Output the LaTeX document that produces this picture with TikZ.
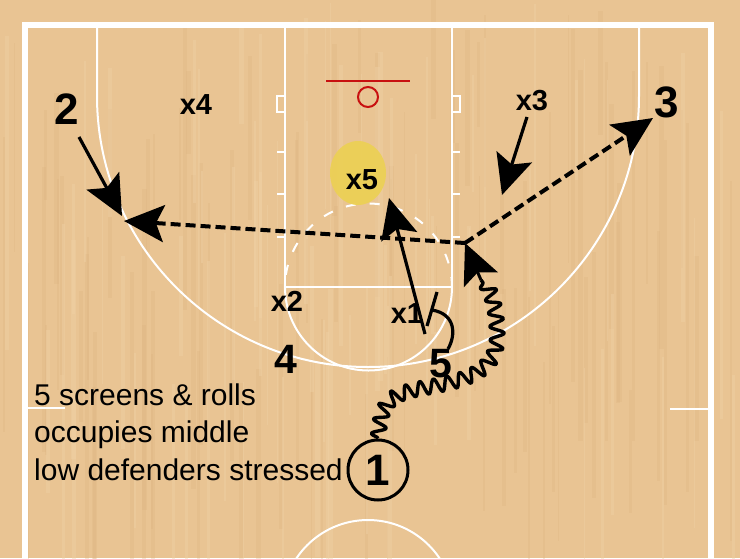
\documentclass[tikz,border=0pt]{standalone}
\usepackage{fontspec}
\setmainfont{Liberation Sans}
\usetikzlibrary{arrows.meta,decorations.pathmorphing}
\definecolor{wood}{RGB}{233,196,147}
\definecolor{wooddark}{RGB}{222,180,128}
\definecolor{woodlight}{RGB}{240,210,166}
\definecolor{rimred}{RGB}{200,16,16}
\definecolor{hilite}{RGB}{236,208,84}
\begin{document}
\begin{tikzpicture}[x=1pt,y=-1pt,
  court/.style={white, line width=2pt},
  bigdigit/.style={font=\fontsize{44}{44}\selectfont\bfseries, inner sep=0pt},
  middigit/.style={font=\fontsize{41}{41}\selectfont\bfseries, inner sep=0pt},
  deflabel/.style={font=\fontsize{29}{29}\selectfont\bfseries, inner sep=0pt},
  note/.style={font=\fontsize{30}{30}\selectfont, inner sep=0pt, anchor=base west},
  head/.style={-{Stealth[length=40pt,width=37pt,inset=8pt]}},
  cut/.style={head, line width=3.2pt},
  pass/.style={head, line width=4pt, dash pattern=on 10pt off 5pt},
  screenline/.style={line width=3.2pt},
  dribble/.style={line width=3.4pt, line join=round, decorate, decoration={snake, segment length=14pt, amplitude=7pt}}
]
\useasboundingbox (0,0) rectangle (740,558);
\clip (0,0) rectangle (740,558);
\fill[wood] (0,0) rectangle (740,558);
% wood grain
\pgfmathsetseed{7}
\foreach \i in {1,...,90}{
  \pgfmathsetmacro{\xx}{rnd*740}
  \pgfmathsetmacro{\ww}{1+rnd*4}
  \pgfmathsetmacro{\yy}{rnd*400}
  \pgfmathsetmacro{\hh}{80+rnd*300}
  \fill[wooddark, opacity=0.3] (\xx,\yy) rectangle ++(\ww,\hh);
}
\foreach \i in {1,...,70}{
  \pgfmathsetmacro{\xx}{rnd*740}
  \pgfmathsetmacro{\ww}{1+rnd*4}
  \pgfmathsetmacro{\yy}{rnd*400}
  \pgfmathsetmacro{\hh}{80+rnd*300}
  \fill[woodlight, opacity=0.4] (\xx,\yy) rectangle ++(\ww,\hh);
}
% court
\draw[white, line width=5.5pt] (25,25) rectangle (711,640);
\draw[court] (28,408) -- (65,408);
\draw[court] (670,409) -- (708,409);
\draw[court] (285,25) -- (285,287) -- (452,287) -- (452,25);
\draw[court] (285,96) -- (277,96) -- (277,112) -- (285,112);
\draw[court] (452,96) -- (460,96) -- (460,112) -- (452,112);
\foreach \yy in {152,194,237}{
  \draw[court] (277,\yy) -- (285,\yy);
  \draw[court] (452,\yy) -- (460,\yy);
}
\draw[court] (285,287) arc[start angle=180,end angle=360,radius=83.5pt];
\draw[court, dash pattern=on 10pt off 14pt] (452,287) arc[start angle=0,end angle=180,radius=83.5pt];
\draw[court] (97,25) -- (97,96) arc[start angle=180,end angle=360,radius=271pt] -- (639,25);
\draw[court] (368,606) circle[radius=86pt];
% basket
\draw[rimred, line width=2.2pt] (326,81) -- (410,81);
\draw[rimred, line width=2pt] (368,97) circle[radius=10pt];
% highlight
\fill[hilite, opacity=0.92] (358,173) ellipse[x radius=28pt, y radius=32pt];
% players
\node[bigdigit] (o2) at (67,109) {2};
\node[deflabel] (d4) at (196,105) {x4};
\node[deflabel] (d3) at (532,101) {x3};
\node[bigdigit] (o3) at (667,102) {3};
\node[deflabel] (d5) at (362,180) {x5};
\node[deflabel] (d2) at (287,301) {x2};
\node[deflabel] (d1) at (407,314) {x1};
\node[middigit] (o4) at (286,359) {4};
\node[middigit] (o5) at (441,364) {5};
\node[draw, circle, line width=3pt, minimum size=60pt, inner sep=0pt,
      font=\fontsize{44}{44}\selectfont\bfseries] (o1) at (378,470) {1};
% notes
\node[note] (n1) at (34,405) {5 screens \& rolls};
\node[note] (n2) at (34,442) {occupies middle};
\node[note] (n3) at (34,480) {low defenders stressed};
% coordinates
\coordinate (a2s) at (79,137);
\coordinate (a2e) at (122,216);
\coordinate (a3s) at (527,117);
\coordinate (a3e) at (502,195);
\coordinate (hand) at (465,243);
\coordinate (rec2) at (124,221);
\coordinate (rec3) at (653,118);
\coordinate (scr) at (425,334);
\coordinate (roll) at (389,198);
\coordinate (drib) at (481,280);
\coordinate (scrs) at (448,349);
\coordinate (scre) at (432,310);
\coordinate (bart) at (437,292);
\coordinate (barb) at (427,326);
% movements
\draw[cut] (a2s) -- (a2e);
\draw[cut] (a3s) -- (a3e);
\draw[pass] (hand) -- (rec2);
\draw[pass] (hand) -- (rec3);
\draw[cut] (scr) -- (roll);
\draw[screenline] (scrs) .. controls (456,335) and (456,314) .. (scre);
\draw[screenline] (bart) -- (barb);
\draw[dribble] (o1.north) .. controls (381,405) and (390,398) .. (420,392)
   .. controls (460,385) and (497,378) .. (497,340)
   .. controls (497,310) and (490,292) .. (drib);
\draw[cut, line width=3pt] (drib) -- (hand);
\end{tikzpicture}
\end{document}
